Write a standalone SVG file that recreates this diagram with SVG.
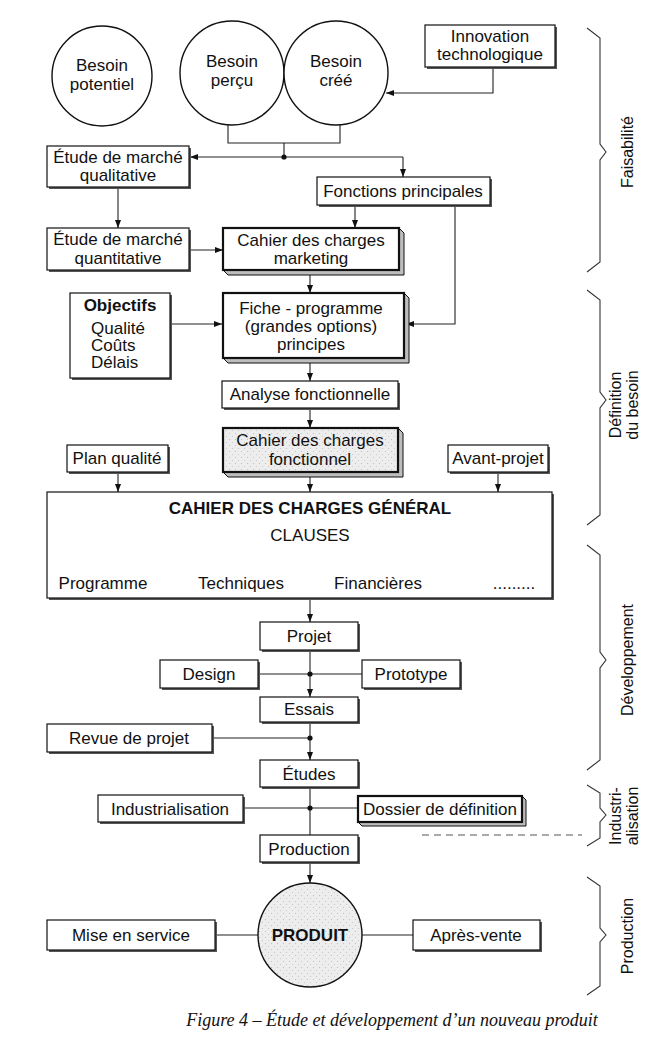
<svg xmlns="http://www.w3.org/2000/svg" width="672" height="1064" viewBox="0 0 672 1064">
<defs>
<style>
text{font-family:"Liberation Sans",Arial,sans-serif;font-size:17px;fill:#111;text-anchor:middle}
.b{font-weight:bold}
.cap{font-family:"Liberation Serif","Times New Roman",serif;font-style:italic;font-size:18px}
.lab{font-size:16px}
.box{fill:#fff;stroke:#111;stroke-width:1.2}
.sh{fill:#555}
.thick{fill:#fff;stroke:#111;stroke-width:2.2}
.grey{stroke:#111;stroke-width:2.2}
.bev{fill:#bdbdbd;stroke:#111;stroke-width:1}
.circ{fill:#fff;stroke:#111;stroke-width:1.4}
.ln{fill:none;stroke:#222;stroke-width:1.1}
.brace{fill:none;stroke:#333;stroke-width:1.1}
.dash{fill:none;stroke:#555;stroke-width:1.2;stroke-dasharray:7 5}
</style>
<marker id="ar" viewBox="0 0 8 8" refX="8" refY="4" markerWidth="8" markerHeight="8" markerUnits="userSpaceOnUse" orient="auto">
<path d="M0,1 L8,4 L0,7 z" fill="#111"/>
</marker>
<pattern id="stip" width="6" height="6" patternUnits="userSpaceOnUse">
<rect width="6" height="6" fill="#ededed"/>
<circle cx="1.5" cy="1.5" r="0.6" fill="#bbb"/>
<circle cx="4.5" cy="4.5" r="0.6" fill="#c4c4c4"/>
</pattern>
</defs>
<rect width="672" height="1064" fill="#fff"/>

<!-- connectors -->
<g id="connectors">
<path class="ln" d="M493,67 V93 H386" marker-end="url(#ar)"/>
<path class="ln" d="M228,125 V143 H340 V125 M284,143 V157"/>
<path class="ln" d="M403,157 H190" marker-end="url(#ar)"/>
<path class="ln" d="M403,157 V177" marker-end="url(#ar)"/>
<path class="ln" d="M118,187 V228" marker-end="url(#ar)"/>
<path class="ln" d="M189,250 H223" marker-end="url(#ar)"/>
<path class="ln" d="M355,206 V228" marker-end="url(#ar)"/>
<path class="ln" d="M455,206 V324 H406" marker-end="url(#ar)"/>
<path class="ln" d="M310,274 V293" marker-end="url(#ar)"/>
<path class="ln" d="M170,324 H222" marker-end="url(#ar)"/>
<path class="ln" d="M310,362 V381" marker-end="url(#ar)"/>
<path class="ln" d="M310,408 V428" marker-end="url(#ar)"/>
<path class="ln" d="M118,472 V492" marker-end="url(#ar)"/>
<path class="ln" d="M310,476 V492" marker-end="url(#ar)"/>
<path class="ln" d="M498,472 V492" marker-end="url(#ar)"/>
<path class="ln" d="M100,552 H518"/>
<path class="ln" d="M100,552 V570" marker-end="url(#ar)"/>
<path class="ln" d="M241,552 V570" marker-end="url(#ar)"/>
<path class="ln" d="M376,552 V570" marker-end="url(#ar)"/>
<path class="ln" d="M518,552 V570" marker-end="url(#ar)"/>
<path class="ln" d="M310,598 V622" marker-end="url(#ar)"/>
<path class="ln" d="M310,650 V697" marker-end="url(#ar)"/>
<path class="ln" d="M258,674 H362"/>
<path class="ln" d="M212,738 H310"/>
<path class="ln" d="M310,722 V760" marker-end="url(#ar)"/>
<path class="ln" d="M243,808 H358 M310,787 V835"/>
<path class="ln" d="M310,862 V883" marker-end="url(#ar)"/>
<path class="ln" d="M215,935 H258 M362,935 H413"/>
<circle cx="284" cy="157" r="2.6" fill="#111"/>
<circle cx="310" cy="674" r="2.6" fill="#111"/>
<circle cx="310" cy="738" r="2.6" fill="#111"/>
<circle cx="310" cy="808" r="2.6" fill="#111"/>
<path class="dash" d="M422,835 H582"/>
</g>

<!-- needs -->
<g id="besoin-potentiel"><circle class="circ" cx="102" cy="76" r="50"/><text x="102" y="71">Besoin</text><text x="102" y="90">potentiel</text></g>
<g id="besoin-percu"><circle class="circ" cx="232" cy="73" r="52"/><text x="232" y="67">Besoin</text><text x="232" y="86">perçu</text></g>
<g id="besoin-cree"><circle class="circ" cx="336" cy="73" r="52"/><text x="336" y="67">Besoin</text><text x="336" y="86">créé</text></g>
<g id="innovation"><rect class="sh" x="427" y="27" width="130" height="42"/><rect class="box" x="425" y="25" width="130" height="42"/><text x="490" y="42">Innovation</text><text x="490" y="60">technologique</text></g>

<g id="etude-qualitative"><rect class="sh" x="49" y="148" width="142" height="41"/><rect class="box" x="47" y="146" width="142" height="41"/><text x="118" y="163">Étude de marché</text><text x="118" y="181">qualitative</text></g>
<g id="fonctions-principales"><rect class="sh" x="319" y="179" width="173" height="28"/><rect class="box" x="317" y="177" width="173" height="28"/><text x="403" y="197">Fonctions principales</text></g>
<g id="etude-quantitative"><rect class="sh" x="49" y="230" width="142" height="42"/><rect class="box" x="47" y="228" width="142" height="42"/><text x="118" y="245">Étude de marché</text><text x="118" y="264">quantitative</text></g>
<g id="cdc-marketing"><path class="bev" d="M399,228 L404,233 V275 H228 L223,270 H399 Z"/><rect class="thick" x="223" y="228" width="176" height="42"/><text x="311" y="246">Cahier des charges</text><text x="311" y="264">marketing</text></g>

<g id="objectifs"><rect class="sh" x="72" y="295" width="100" height="85"/><rect class="box" x="70" y="293" width="100" height="85"/><text class="b" x="120" y="311">Objectifs</text><text x="91" y="334" style="text-anchor:start">Qualité</text><text x="91" y="351" style="text-anchor:start">Coûts</text><text x="91" y="368" style="text-anchor:start">Délais</text></g>
<g id="fiche-programme"><path class="bev" d="M404,293 L409,298 V363 H228 L223,358 H404 Z"/><rect class="thick" x="223" y="293" width="181" height="65"/><text x="311" y="314">Fiche - programme</text><text x="311" y="332">(grandes options)</text><text x="311" y="350">principes</text></g>
<g id="analyse-fonctionnelle"><rect class="sh" x="224" y="383" width="176" height="27"/><rect class="box" x="222" y="381" width="176" height="27"/><text x="310" y="400">Analyse fonctionnelle</text></g>
<g id="cdc-fonctionnel"><path class="bev" d="M398,428 L403,433 V477 H228 L223,472 H398 Z"/><rect class="grey" x="223" y="428" width="175" height="44" style="fill:url(#stip)"/><text x="310" y="446">Cahier des charges</text><text x="310" y="465">fonctionnel</text></g>
<g id="plan-qualite"><rect class="sh" x="69" y="447" width="101" height="27"/><rect class="box" x="67" y="445" width="101" height="27"/><text x="117" y="464">Plan qualité</text></g>
<g id="avant-projet"><rect class="sh" x="450" y="447" width="100" height="27"/><rect class="box" x="448" y="445" width="100" height="27"/><text x="498" y="464">Avant-projet</text></g>

<g id="cdc-general"><rect class="sh" x="49" y="494" width="505" height="106"/><rect class="box" x="47" y="492" width="505" height="106"/><text class="b" x="310" y="514">CAHIER DES CHARGES GÉNÉRAL</text><text x="310" y="541">CLAUSES</text><text x="103" y="589">Programme</text><text x="241" y="589">Techniques</text><text x="378" y="589">Financières</text><text x="514" y="589">.........</text></g>

<g id="projet"><rect class="sh" x="262" y="624" width="98" height="28"/><rect class="box" x="260" y="622" width="98" height="28"/><text x="309" y="642">Projet</text></g>
<g id="design"><rect class="sh" x="162" y="662" width="98" height="28"/><rect class="box" x="160" y="660" width="98" height="28"/><text x="209" y="680">Design</text></g>
<g id="prototype"><rect class="sh" x="364" y="662" width="98" height="28"/><rect class="box" x="362" y="660" width="98" height="28"/><text x="411" y="680">Prototype</text></g>
<g id="essais"><rect class="sh" x="262" y="699" width="98" height="25"/><rect class="box" x="260" y="697" width="98" height="25"/><text x="309" y="715">Essais</text></g>
<g id="revue-de-projet"><rect class="sh" x="49" y="726" width="165" height="28"/><rect class="box" x="47" y="724" width="165" height="28"/><text x="129" y="744">Revue de projet</text></g>
<g id="etudes"><rect class="sh" x="262" y="762" width="98" height="27"/><rect class="box" x="260" y="760" width="98" height="27"/><text x="309" y="780">Études</text></g>
<g id="industrialisation"><rect class="sh" x="100" y="797" width="145" height="27"/><rect class="box" x="98" y="795" width="145" height="27"/><text x="170" y="815">Industrialisation</text></g>
<g id="dossier-de-definition"><path class="bev" d="M522,796 L526,800 V826 H362 L358,822 H522 Z"/><rect class="thick" x="358" y="796" width="164" height="26"/><text x="440" y="815">Dossier de définition</text></g>
<g id="production"><rect class="sh" x="262" y="837" width="98" height="27"/><rect class="box" x="260" y="835" width="98" height="27"/><text x="309" y="855">Production</text></g>

<g id="produit"><circle class="circ" cx="310" cy="935" r="52" style="fill:url(#stip)"/><text class="b" x="310" y="941">PRODUIT</text></g>
<g id="mise-en-service"><rect class="sh" x="49" y="922" width="168" height="30"/><rect class="box" x="47" y="920" width="168" height="30"/><text x="131" y="941">Mise en service</text></g>
<g id="apres-vente"><rect class="sh" x="415" y="922" width="127" height="30"/><rect class="box" x="413" y="920" width="127" height="30"/><text x="476" y="941">Après-vente</text></g>

<!-- phases -->
<g id="phase-faisabilite"><path class="brace" d="M587,28 L600,38 V144 L606,152 L600,160 V262 L587,272"/><text class="lab" transform="translate(633,152) rotate(-90)">Faisabilité</text></g>
<g id="phase-definition"><path class="brace" d="M587,290 L600,300 V392 L606,400 L600,408 V515 L587,525"/><text class="lab" transform="translate(621,405) rotate(-90)">Définition</text><text class="lab" transform="translate(638,405) rotate(-90)">du besoin</text></g>
<g id="phase-developpement"><path class="brace" d="M587,545 L600,555 V652 L606,660 L600,668 V760 L587,770"/><text class="lab" transform="translate(633,660) rotate(-90)">Développement</text></g>
<g id="phase-industrialisation"><path class="brace" d="M587,785 L600,793 V808 L606,815 L600,822 V838 L587,846"/><text class="lab" transform="translate(621,816) rotate(-90)">Industri-</text><text class="lab" transform="translate(638,816) rotate(-90)">alisation</text></g>
<g id="phase-production"><path class="brace" d="M587,877 L600,886 V928 L606,935 L600,942 V986 L587,995"/><text class="lab" transform="translate(633,936) rotate(-90)">Production</text></g>

<text class="cap" x="392" y="1026">Figure 4 – Étude et développement d’un nouveau produit</text>
</svg>
